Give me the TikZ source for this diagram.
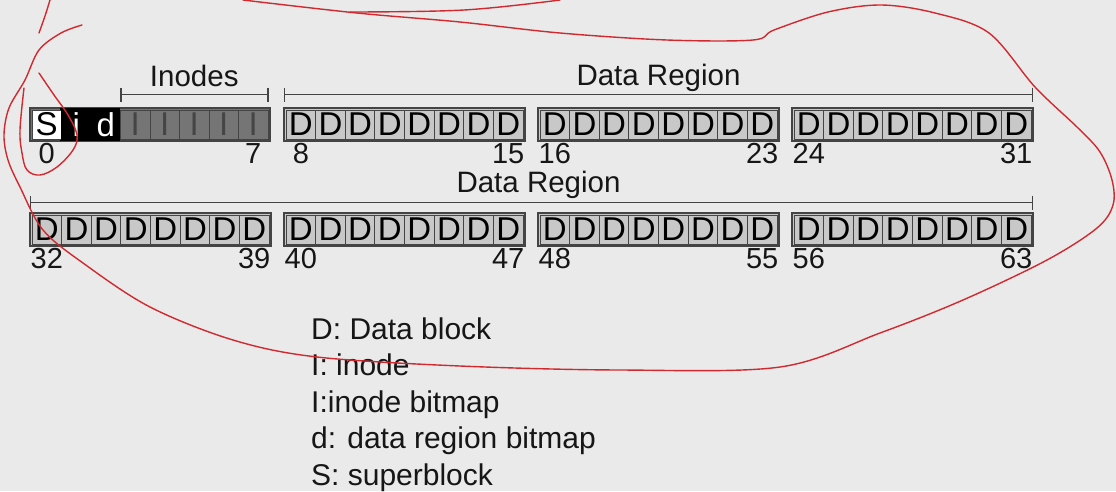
\documentclass[tikz,border=0pt]{standalone}
\usepackage{fontspec}
\setmainfont{Liberation Sans}
\usetikzlibrary{arrows.meta,positioning}
\definecolor{paper}{HTML}{EAEAEA}
\definecolor{ink}{HTML}{161616}
\definecolor{frame}{HTML}{444444}
\definecolor{dfill}{HTML}{C8C8C8}
\definecolor{ifill}{HTML}{757575}
\definecolor{pen}{HTML}{D02A30}
\tikzset{
  blk/.style={draw=frame, line width=0.9pt, minimum width=29.6pt, minimum height=29pt, inner sep=0pt, font=\fontsize{33}{33}\selectfont, text=black},
  dblk/.style={blk, fill=dfill},
  iblk/.style={blk, fill=ifill, text=ink!80},
  bmap/.style={blk, fill=black, draw=black, text=white},
  sblk/.style={blk, fill=white},
  grp/.style={draw=frame, line width=1.1pt},
  num/.style={font=\fontsize{29}{29}\selectfont, text=ink, inner sep=0pt},
  lbl/.style={font=\fontsize{29.5}{29.5}\selectfont, text=ink, inner sep=0pt, anchor=base},
  span/.style={draw=frame, line width=1.6pt, {Bar[width=14pt]}-{Bar[width=14pt]}},
  legend/.style={font=\fontsize{30}{30}\selectfont, text=ink, inner sep=0pt, anchor=base west},
  scribble/.style={draw=pen, line width=1.4pt, line cap=round, line join=round}
}
\begin{document}
\begin{tikzpicture}[x=1pt, y=-1pt]
  \fill[paper] (0,0) rectangle (1116,491);
  \useasboundingbox (0,0) rectangle (1116,491);

  % superblock, bitmaps and inodes
  \draw[grp, fill=ifill] (30,108) rectangle ++(240,33);
  \fill[black] (60,108) rectangle (120,141);
  \foreach \k/\t/\s in {0/S/sblk, 1/i/bmap, 2/d/bmap, 3/I/iblk, 4/I/iblk, 5/I/iblk, 6/I/iblk, 7/I/iblk}{
    \node[\s] (b\k) at ({32+29.5*(\k+0.5)}, 124.5) {\t};
  }

  % data blocks
  \foreach \xo/\yo/\n in {284/108/8, 538/108/16, 792/108/24, 30/213/32, 284/213/40, 538/213/48, 792/213/56}{
    \draw[grp, fill=dfill] (\xo,\yo) rectangle ++(241,33);
    \foreach \k in {0,...,7}{
      \pgfmathtruncatemacro\bn{\n+\k}
      \node[dblk] (b\bn) at ({\xo+2+29.625*(\k+0.5)}, {\yo+16.5}) {D};
    }
  }

  % block numbers
  \foreach \a/\z in {0/7, 8/15, 16/23, 24/31, 32/39, 40/47, 48/55, 56/63}{
    \node[num, below=4pt of b\a] (n\a) {\a};
    \node[num, below=4pt of b\z] (n\z) {\z};
  }

  % region spans
  \coordinate (inL) at ([yshift=15pt]b3.north west);
  \coordinate (inR) at ([yshift=15pt]b7.north east);
  \coordinate (daL) at ([xshift=-2pt, yshift=15pt]b8.north west);
  \coordinate (daR) at ([xshift=2pt, yshift=15pt]b31.north east);
  \coordinate (dbL) at ([xshift=-2pt, yshift=12pt]b32.north west);
  \coordinate (dbR) at ([xshift=2pt, yshift=12pt]b63.north east);
  \draw[span] (inL) -- node[lbl, yshift=8pt] (inodes) {Inodes} (inR);
  \draw[span] (daL) -- node[lbl, yshift=9pt] (region1) {Data Region} (daR);
  \draw[span] (dbL) -- node[lbl, pos=0.507, yshift=10pt] (region2) {Data Region} (dbR);

  % legend
  \foreach \t [count=\i] in {D: Data block, I: inode, I:inode bitmap, d: data region bitmap, S: superblock}{
    \node[legend] (leg\i) at (311, {339+36.5*(\i-1)}) {\t};
  }

  % red pen marks
  \draw[scribble] plot[smooth, tension=0.6] coordinates {(50,0) (45,16) (39,33)};
  \draw[scribble] plot[smooth, tension=0.6] coordinates {(39,73) (54,95) (68,115) (77,135) (73,150) (57,167) (40,175) (27,170) (22,153) (20,130) (24,88)};
  \draw[scribble] plot[smooth, tension=0.55] coordinates {(82,25) (61,33) (39,50) (25,80) (9,108) (4,135) (8,160) (20,187) (43,230) (83,263) (150,307) (233,340) (317,357) (460,366) (620,370) (780,367) (880,333) (963,300) (1047,260) (1097,228) (1113,205) (1112,180) (1100,152) (1078,128) (1035,87) (989,33) (935,13) (881,5) (828,12) (774,30) (753,40) (667,40) (560,33) (460,22) (357,13) (243,0)};
  \draw[scribble] plot[smooth, tension=0.6] coordinates {(350,12) (464,10) (560,0)};
\end{tikzpicture}
\end{document}
